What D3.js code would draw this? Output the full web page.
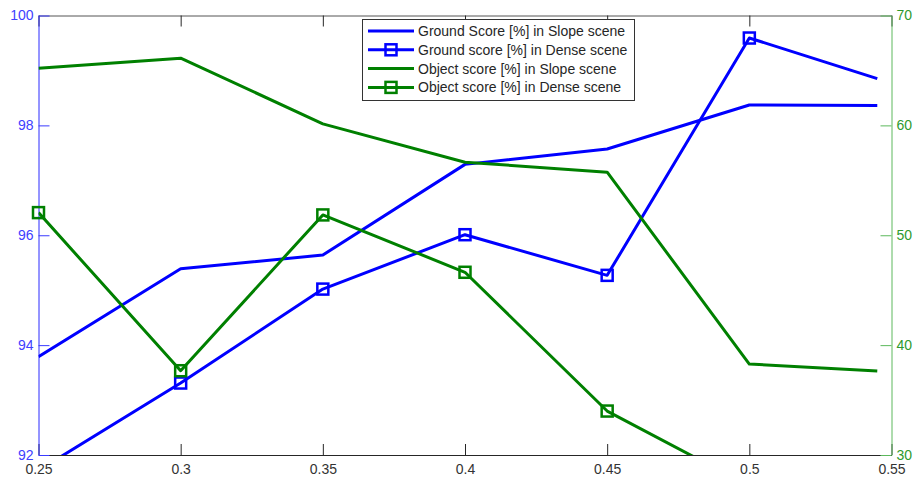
<!DOCTYPE html>
<html>
<head>
<meta charset="utf-8">
<script src="https://cdn.jsdelivr.net/npm/d3@7"></script>
<style>
  html, body { margin: 0; padding: 0; background: #fff; }
  svg { display: block; }
  text { font-family: "Liberation Sans", Arial, sans-serif; font-size: 14px; }
</style>
</head>
<body>
<svg id="chart" width="913" height="478"></svg>
<script>
// Threshold values on the x axis
const xValues = [0.25, 0.3, 0.35, 0.4, 0.45, 0.5, 0.545];
// Thresholds that carry a square marker on the "Dense" series
const markerXValues = [0.25, 0.3, 0.35, 0.4, 0.45, 0.5];
// Left axis series (ground score, %)
const groundSlope = [93.79, 95.39, 95.64, 97.29, 97.57, 98.37, 98.36];
const groundDense = [91.72, 93.31, 95.02, 96.01, 95.27, 99.59, 98.85];
// Right axis series (object score, %)
const objectSlope = [65.21, 66.12, 60.14, 56.65, 55.74, 38.28, 37.64];
const objectDense = [52.06, 37.67, 51.85, 46.63, 34.0, 27.17, 26.0];

const xTicks = [0.25, 0.3, 0.35, 0.4, 0.45, 0.5, 0.55];
const leftTicks = [92, 94, 96, 98, 100];
const rightTicks = [30, 40, 50, 60, 70];

const legendLabels = [
  "Ground Score [%] in Slope scene",
  "Ground score [%] in Dense scene",
  "Object score [%] in Slope scene",
  "Object score [%] in Dense scene"
];

const BLUE = "#0000ff", GREEN = "#008000";
const plot = { left: 38.5, right: 891.5, top: 15.5, bottom: 455 };

const svg = d3.select("#chart");
const x = d3.scaleLinear().domain([0.25, 0.55]).range([plot.left, plot.right]);
const yL = d3.scaleLinear().domain([92, 100]).range([plot.bottom, plot.top]);
const yR = d3.scaleLinear().domain([30, 70]).range([plot.bottom, plot.top]);

svg.append("defs").append("clipPath").attr("id", "plotClip")
  .append("rect")
  .attr("x", plot.left).attr("y", plot.top)
  .attr("width", plot.right - plot.left).attr("height", plot.bottom - plot.top);

const FONT = "Liberation Sans, Arial, sans-serif";

// Axes
const tickLen = 11;
const gBottom = svg.append("g").attr("transform", `translate(0,${plot.bottom})`)
  .call(d3.axisBottom(x).tickValues(xTicks).tickFormat(d3.format("~g"))
    .tickSizeInner(-tickLen).tickSizeOuter(0).tickPadding(9));
gBottom.select(".domain").attr("stroke", "#262626");
gBottom.selectAll(".tick line").attr("stroke", "#262626");
gBottom.selectAll(".tick text").attr("fill", "#333").style("font-size", "14px")
  .style("font-family", FONT);

const gTop = svg.append("g").attr("transform", `translate(0,${plot.top})`)
  .call(d3.axisTop(x).tickValues(xTicks).tickFormat("")
    .tickSizeInner(-tickLen).tickSizeOuter(0));
gTop.select(".domain").attr("stroke", "#555");
gTop.selectAll(".tick line").attr("stroke", "#262626");

const gLeft = svg.append("g").attr("transform", `translate(${plot.left},0)`)
  .call(d3.axisLeft(yL).tickValues(leftTicks)
    .tickSizeInner(-tickLen).tickSizeOuter(0).tickPadding(5));
gLeft.select(".domain").attr("stroke", "#2b2bff");
gLeft.selectAll(".tick line").attr("stroke", "#3a3aff");
gLeft.selectAll(".tick text").attr("fill", "#4040ff").style("font-size", "14px")
  .style("font-family", FONT);

const gRight = svg.append("g").attr("transform", `translate(${plot.right},0)`)
  .call(d3.axisRight(yR).tickValues(rightTicks)
    .tickSizeInner(-tickLen).tickSizeOuter(0).tickPadding(5));
gRight.select(".domain").attr("stroke", "#5cb85c");
gRight.selectAll(".tick line").attr("stroke", "#5cb85c");
gRight.selectAll(".tick text").attr("fill", "#2e9a2e").style("font-size", "14px")
  .style("font-family", FONT);

// Series
const series = [
  { values: groundSlope, y: yL, color: BLUE, marker: false },
  { values: groundDense, y: yL, color: BLUE, marker: true },
  { values: objectSlope, y: yR, color: GREEN, marker: false },
  { values: objectDense, y: yR, color: GREEN, marker: true }
];

const markerSize = 11;
const gData = svg.append("g");
series.forEach(s => {
  const pts = xValues.map((xv, i) => [xv, s.values[i]]);
  const line = d3.line().x(d => x(d[0])).y(d => s.y(d[1]));
  gData.append("path")
    .attr("clip-path", "url(#plotClip)")
    .attr("d", line(pts))
    .attr("fill", "none")
    .attr("stroke", s.color)
    .attr("stroke-width", 3)
    .attr("stroke-linejoin", "round");
  if (s.marker) {
    const [lo, hi] = s.y.domain();
    gData.selectAll(null)
      .data(pts.filter(d => markerXValues.includes(d[0]) && d[1] >= lo && d[1] <= hi))
      .enter().append("rect")
      .attr("x", d => x(d[0]) - markerSize / 2)
      .attr("y", d => s.y(d[1]) - markerSize / 2)
      .attr("width", markerSize).attr("height", markerSize)
      .attr("fill", "none")
      .attr("stroke", s.color)
      .attr("stroke-width", 2.5);
  }
});

// Legend
const legend = svg.append("g");
const lg = { x: 362.5, y: 19.5, w: 272, h: 81, row0: 31, step: 18.8 };
legend.append("rect")
  .attr("x", lg.x).attr("y", lg.y).attr("width", lg.w).attr("height", lg.h)
  .attr("fill", "#fff").attr("stroke", "#333").attr("stroke-width", 1);
series.forEach((s, i) => {
  const cy = lg.row0 + i * lg.step;
  legend.append("line")
    .attr("x1", 368).attr("x2", 414).attr("y1", cy).attr("y2", cy)
    .attr("stroke", s.color).attr("stroke-width", 3);
  if (s.marker) {
    legend.append("rect")
      .attr("x", 391 - markerSize / 2).attr("y", cy - markerSize / 2)
      .attr("width", markerSize).attr("height", markerSize)
      .attr("fill", "none").attr("stroke", s.color).attr("stroke-width", 2.5);
  }
  legend.append("text")
    .attr("x", 418).attr("y", cy).attr("dy", "0.36em")
    .attr("fill", "#262626")
    .text(legendLabels[i]);
});
</script>
</body>
</html>
